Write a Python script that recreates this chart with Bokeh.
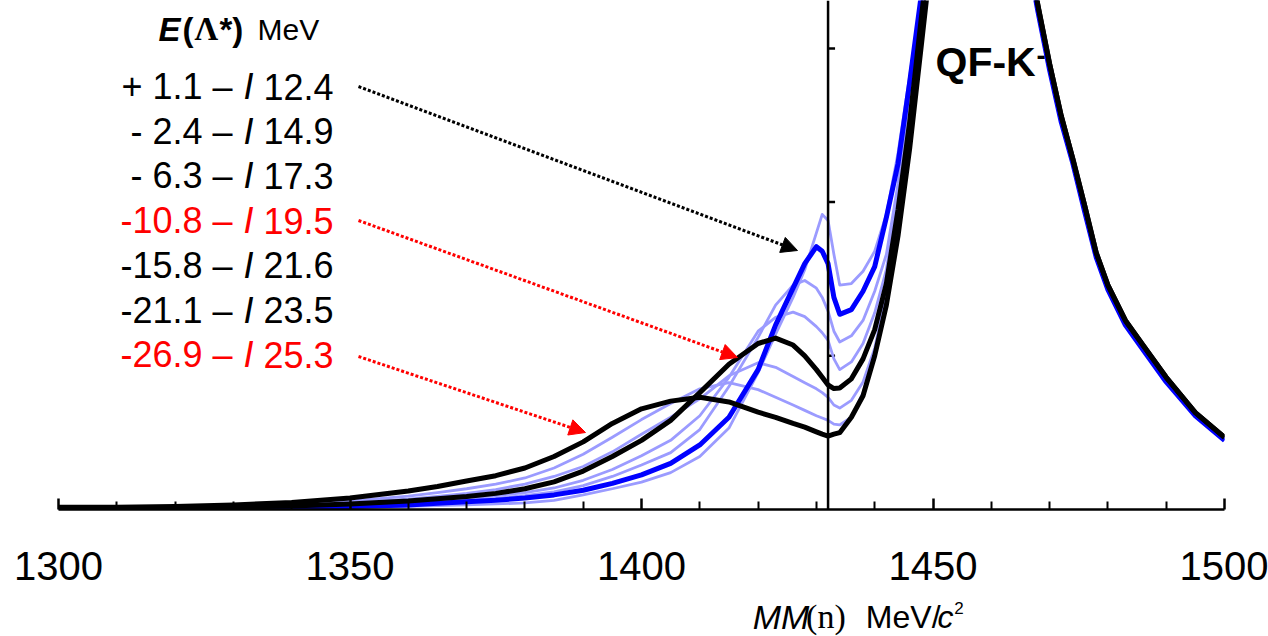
from bokeh.plotting import figure
from bokeh.layouts import column
from bokeh.models import Range1d, FixedTicker, Span, Arrow, NormalHead, Label, ColumnDataSource
from bokeh.core.properties import value
from bokeh.embed import file_html
from bokeh.resources import INLINE

# ---------------- data ----------------
mass = [1300, 1310, 1320, 1330, 1340, 1350, 1360, 1365, 1370, 1375, 1380, 1385, 1390, 1395,
        1400, 1405, 1410, 1415, 1420, 1423, 1426, 1428, 1430, 1431, 1432, 1433, 1434, 1436,
        1438, 1440, 1442, 1444, 1446, 1448, 1450, 1454, 1458, 1462, 1466, 1468, 1470, 1472,
        1474, 1476, 1478, 1480, 1483, 1486, 1490, 1495, 1500]

# quasi-free K- peak part (1454 ... 1500), shared by each colour group
qf_black = [4.3, 4.6, 4.5, 3.7, 3.28, 2.90, 2.56, 2.28, 1.98, 1.67, 1.46, 1.23, 1.07, 0.86, 0.63, 0.47]
qf_blue = [4.3, 4.6, 4.5, 3.65, 3.24, 2.86, 2.52, 2.25, 1.94, 1.64, 1.43, 1.20, 1.04, 0.83, 0.61, 0.45]

# low-mass part (1300 ... 1450) of each spectrum
lb1 = [0.0, 0.0, 0.002, 0.004, 0.007, 0.012, 0.02, 0.025, 0.03, 0.036, 0.043, 0.06, 0.095, 0.135,
       0.178, 0.24, 0.345, 0.53, 0.89, 1.14, 1.38, 1.56, 1.80, 1.92, 1.88, 1.66, 1.46, 1.47,
       1.55, 1.68, 1.92, 2.32, 2.82, 3.33, 3.9]
blue = [0.003, 0.003, 0.005, 0.008, 0.012, 0.02, 0.03, 0.04, 0.05, 0.06, 0.075, 0.095, 0.125, 0.17,
        0.225, 0.30, 0.42, 0.60, 0.91, 1.20, 1.44, 1.60, 1.71, 1.68, 1.60, 1.38, 1.27, 1.30,
        1.42, 1.58, 1.90, 2.25, 2.78, 3.35, 3.9]
lb2 = [0.002, 0.003, 0.005, 0.009, 0.014, 0.024, 0.038, 0.048, 0.06, 0.073, 0.09, 0.115, 0.155, 0.215,
       0.29, 0.37, 0.52, 0.80, 1.12, 1.33, 1.46, 1.49, 1.44, 1.38, 1.29, 1.16, 1.09, 1.13,
       1.23, 1.42, 1.66, 2.12, 2.68, 3.3, 3.9]
lb3 = [0.004, 0.005, 0.008, 0.012, 0.019, 0.03, 0.048, 0.06, 0.074, 0.09, 0.11, 0.14, 0.19, 0.26,
       0.35, 0.45, 0.61, 0.86, 1.16, 1.25, 1.284, 1.255, 1.19, 1.15, 1.10, 0.98, 0.91, 0.96,
       1.08, 1.28, 1.56, 2.05, 2.60, 3.25, 3.85]
black1 = [0.005, 0.006, 0.01, 0.015, 0.022, 0.035, 0.055, 0.07, 0.085, 0.105, 0.135, 0.18, 0.25, 0.345,
          0.45, 0.58, 0.76, 0.945, 1.08, 1.115, 1.07, 1.00, 0.91, 0.86, 0.81, 0.787, 0.79, 0.85,
          0.98, 1.17, 1.47, 1.95, 2.52, 3.2, 3.85]
lb4 = [0.006, 0.008, 0.012, 0.018, 0.027, 0.043, 0.068, 0.085, 0.105, 0.13, 0.165, 0.215, 0.28, 0.375,
       0.49, 0.60, 0.72, 0.87, 0.955, 0.925, 0.865, 0.825, 0.785, 0.76, 0.73, 0.68, 0.66, 0.71,
       0.83, 1.05, 1.40, 1.90, 2.50, 3.15, 3.8]
lb5 = [0.008, 0.01, 0.015, 0.023, 0.035, 0.055, 0.087, 0.11, 0.135, 0.165, 0.205, 0.27, 0.36, 0.47,
       0.585, 0.69, 0.785, 0.826, 0.78, 0.73, 0.68, 0.645, 0.61, 0.595, 0.58, 0.555, 0.55, 0.60,
       0.76, 1.02, 1.36, 1.84, 2.44, 3.12, 3.78]
black2 = [0.015, 0.015, 0.02, 0.03, 0.045, 0.075, 0.12, 0.15, 0.185, 0.22, 0.27, 0.345, 0.44, 0.56,
          0.655, 0.705, 0.73, 0.70, 0.633, 0.60, 0.56, 0.536, 0.505, 0.49, 0.478, 0.49, 0.50, 0.60,
          0.74, 1.00, 1.33, 1.78, 2.35, 3.02, 3.7]

row_left = ["+ 1.1 \u2013", "- 2.4 \u2013", "- 6.3 \u2013", "-10.8 \u2013", "-15.8 \u2013", "-21.1 \u2013", "-26.9 \u2013"]
row_right = ["12.4", "14.9", "17.3", "19.5", "21.6", "23.5", "25.3"]
row_color = ["black", "black", "black", "red", "black", "black", "red"]

xticks = [1300, 1350, 1400, 1450, 1500]
xminor = [1310, 1320, 1330, 1340, 1360, 1370, 1380, 1390, 1410, 1420, 1430,
          1440, 1460, 1470, 1480, 1490]
threshold = 1432
yticks = [1, 2, 3]

# ---------------- geometry helpers ----------------
W = 1268
H_MAIN, H_TITLE = 596, 40
LEFT, RIGHT = 58, 44
FH = 509
BOTTOM = H_MAIN - FH
X0, X1 = 1300, 1500
Y0, Y1 = 0.0, FH / 153.7
FW = W - LEFT - RIGHT


def px2x(px):
    return X0 + (px - LEFT) * (X1 - X0) / FW


def py2y(py):
    return Y1 - py * (Y1 - Y0) / FH


p = figure(width=W, height=H_MAIN, x_range=Range1d(X0, X1), y_range=Range1d(Y0, Y1),
           output_backend="svg", toolbar_location=None, y_axis_location=None, title=None,
           min_border_left=LEFT, min_border_right=RIGHT, min_border_top=0,
           min_border_bottom=BOTTOM, background_fill_color="white",
           border_fill_color="white", outline_line_color=None)
p.grid.visible = False

ax = p.xaxis[0]
ax.ticker = FixedTicker(ticks=xticks, minor_ticks=xminor)
ax.axis_line_width = 2.5
ax.axis_line_color = "black"
ax.major_tick_in = 11
ax.major_tick_out = 0
ax.minor_tick_in = 8
ax.minor_tick_out = 0
ax.major_tick_line_width = 2.5
ax.minor_tick_line_width = 2
ax.major_tick_line_color = "black"
ax.minor_tick_line_color = "black"
ax.major_label_text_font = "Liberation Sans"
ax.major_label_text_font_size = "40px"
ax.major_label_text_color = "black"
ax.major_label_standoff = 42

# threshold line with its ticks
p.add_layout(Span(location=threshold, dimension="height", line_color="black", line_width=2.5))
p.segment(x0=[threshold] * len(yticks), y0=yticks,
          x1=[threshold + 7 * (X1 - X0) / FW] * len(yticks), y1=yticks,
          line_color="black", line_width=2.5)

# superscript of QF-K (lies under the curves)
p.text(x=[px2x(1036)], y=[py2y(55)], text=["-"], text_font=value("Liberation Sans"),
       text_font_style="bold", text_font_size="28px", text_color="black",
       text_baseline="middle", text_align="left")

# ---------------- curves ----------------
LB = "#9b9bff"
for ys in (lb1, lb2, lb3, lb4, lb5):
    p.line(mass, ys + qf_blue, line_color=LB, line_width=2.8, line_join="round")
p.line(mass, blue + qf_blue, line_color="#0000ff", line_width=5, line_join="round")
p.line(mass, black2 + qf_black, line_color="black", line_width=5, line_join="round")
p.line(mass, black1 + qf_black, line_color="black", line_width=5, line_join="round")

# ---------------- texts (text_baseline "middle" = centre of capitals) ----------------
row_mid = [86 + 44.7 * i for i in range(len(row_left))]
src = ColumnDataSource(dict(
    xl=[px2x(232)] * len(row_left), xi=[px2x(243)] * len(row_left), xr=[px2x(263)] * len(row_left),
    y=[py2y(b) for b in row_mid], tl=row_left, ti=["I"] * len(row_left), tr=row_right, c=row_color))
common = dict(text_font=value("Liberation Sans"), text_font_size="36px", text_baseline="middle")
p.text(x="xl", y="y", text="tl", text_color="c", text_align="right", source=src, **common)
p.text(x="xi", y="y", text="ti", text_color="c", text_align="left", text_font_style="italic",
       source=src, **common)
p.text(x="xr", y="y", text="tr", text_color="c", text_align="left", source=src, **common)

hdr = [("E", 158, "Liberation Sans", "bold italic", "33px"),
       ("(", 182, "Liberation Sans", "bold", "33px"),
       ("\u039b", 194, "Liberation Serif", "bold", "33px"),
       ("*)", 219, "Liberation Sans", "bold", "33px"),
       ("MeV", 257, "Liberation Sans", "normal", "30px")]
for txt, xp, f, st, sz in hdr:
    p.add_layout(Label(x=px2x(xp), y=py2y(28.5), text=txt, text_font=f, text_font_style=st,
                       text_font_size=sz, text_color="black", text_baseline="middle",
                       text_align="left"))

p.add_layout(Label(x=px2x(935), y=py2y(61.5), text="QF-K", text_font="Liberation Sans",
                   text_font_style="bold", text_font_size="41px", text_color="black",
                   text_baseline="middle", text_align="left"))

# ---------------- arrows ----------------
arrows = [((358, 86), (797, 250), "black"),
          ((358, 220), (737, 357), "red"),
          ((358, 356), (585, 432), "red")]
for (sx, sy), (ex, ey), col in arrows:
    p.add_layout(Arrow(end=NormalHead(size=16, fill_color=col, line_color=col, line_width=1),
                       x_start=px2x(sx), y_start=py2y(sy), x_end=px2x(ex), y_end=py2y(ey),
                       line_color=col, line_width=3, line_dash="3 2"))

# ---------------- x-axis title strip ----------------
t = figure(width=W, height=H_TITLE, x_range=Range1d(0, W), y_range=Range1d(H_TITLE, 0),
           output_backend="svg", toolbar_location=None, x_axis_location=None,
           y_axis_location=None, title=None, min_border=0, outline_line_color=None,
           background_fill_color="white", border_fill_color="white")
t.grid.visible = False
xlab = [("MM", 755, 20, "Liberation Sans", "italic", "34px"),
        ("(n)", 813, 20, "Liberation Serif", "normal", "34px"),
        ("MeV/", 878, 20, "Liberation Sans", "normal", "32px"),
        ("c", 956, 20, "Liberation Sans", "italic", "32px"),
        ("2", 974, 11, "Liberation Sans", "normal", "17px")]
for txt, xp, yp, f, st, sz in xlab:
    t.text(x=[xp], y=[yp], text=[txt], text_font=value(f), text_font_style=st,
           text_font_size=sz, text_color="black", text_baseline="middle", text_align="left")

open("out.html", "w").write(file_html(column(p, t, spacing=0), INLINE))
